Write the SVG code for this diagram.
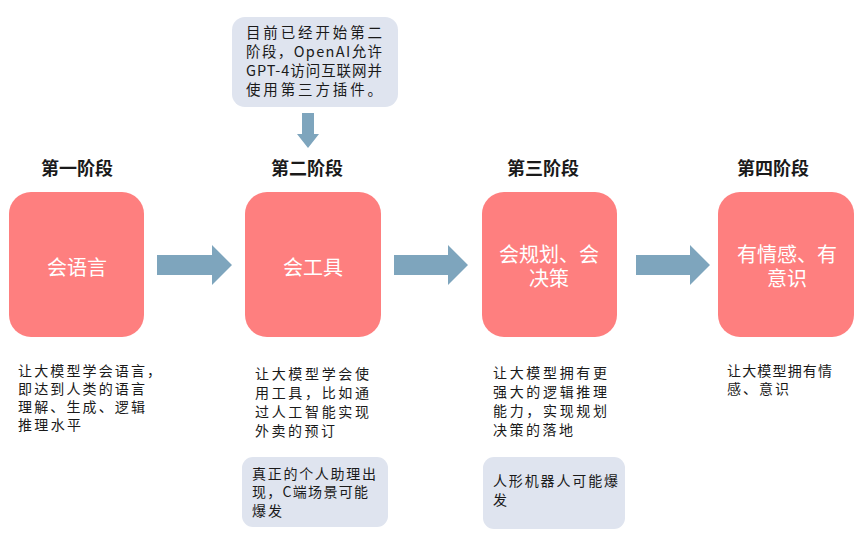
<svg xmlns="http://www.w3.org/2000/svg" width="863" height="542" viewBox="0 0 863 542">
<style>
.stage{fill:#fe7f7f}
.note{fill:#dfe4ef}
.arrow{fill:#7ea5bd}
.head{font-family:"Noto Sans CJK SC","Noto Sans",sans-serif;font-size:18px;font-weight:bold;fill:#1a1a1a;text-anchor:middle}
.btxt{font-family:"Noto Sans CJK SC","Noto Sans",sans-serif;font-size:20px;fill:#ffffff;text-anchor:middle}
.desc{font-family:"Noto Sans CJK SC","Noto Sans",sans-serif;font-size:14px;fill:#1a1a1a}
.ntxt{font-family:"Noto Sans CJK SC","Noto Sans",sans-serif;font-size:14.5px;fill:#1a1a1a}
</style>
<rect width="863" height="542" fill="#ffffff"/>
<g id="callout-top">
<rect class="note" x="232" y="17" width="166" height="90" rx="13"/>
<text class="ntxt" x="246" y="38" textLength="136" lengthAdjust="spacing">目前已经开始第二</text>
<text class="ntxt" x="246" y="57" textLength="136" lengthAdjust="spacing">阶段，OpenAI允许</text>
<text class="ntxt" x="246" y="76" textLength="136" lengthAdjust="spacing">GPT-4访问互联网并</text>
<text class="ntxt" x="246" y="95" textLength="136" lengthAdjust="spacing">使用第三方插件。</text>
</g>
<g id="stage1">
<text class="head" x="77" y="175">第一阶段</text>
<rect class="stage" x="9" y="192" width="135" height="145" rx="22"/>
<text class="btxt" x="77" y="275">会语言</text>
<text class="desc" x="18" y="376" textLength="143" lengthAdjust="spacing">让大模型学会语言，</text>
<text class="desc" x="18" y="394" textLength="127" lengthAdjust="spacing">即达到人类的语言</text>
<text class="desc" x="18" y="412" textLength="127" lengthAdjust="spacing">理解、生成、逻辑</text>
<text class="desc" x="18" y="430" textLength="63" lengthAdjust="spacing">推理水平</text>
</g>
<g id="stage2">
<text class="head" x="307" y="175">第二阶段</text>
<rect class="stage" x="245" y="192" width="136" height="145" rx="22"/>
<text class="btxt" x="313" y="275">会工具</text>
<text class="desc" x="255" y="379" textLength="114" lengthAdjust="spacing">让大模型学会使</text>
<text class="desc" x="255" y="398" textLength="114" lengthAdjust="spacing">用工具，比如通</text>
<text class="desc" x="255" y="417" textLength="114" lengthAdjust="spacing">过人工智能实现</text>
<text class="desc" x="255" y="436" textLength="80" lengthAdjust="spacing">外卖的预订</text>
</g>
<g id="note2">
<rect class="note" x="242" y="457" width="146" height="70" rx="11"/>
<text class="desc" x="252" y="479" textLength="124" lengthAdjust="spacing">真正的个人助理出</text>
<text class="desc" x="252" y="497" textLength="116" lengthAdjust="spacing">现，C端场景可能</text>
<text class="desc" x="252" y="516" textLength="30" lengthAdjust="spacing">爆发</text>
</g>
<g id="stage3">
<text class="head" x="543" y="175">第三阶段</text>
<rect class="stage" x="482" y="192" width="135" height="145" rx="22"/>
<text class="btxt" x="549" y="262">会规划、会</text>
<text class="btxt" x="549" y="286">决策</text>
<text class="desc" x="493" y="378" textLength="114" lengthAdjust="spacing">让大模型拥有更</text>
<text class="desc" x="493" y="397" textLength="114" lengthAdjust="spacing">强大的逻辑推理</text>
<text class="desc" x="493" y="416" textLength="114" lengthAdjust="spacing">能力，实现规划</text>
<text class="desc" x="493" y="435" textLength="80" lengthAdjust="spacing">决策的落地</text>
</g>
<g id="note3">
<rect class="note" x="483" y="457" width="142" height="72" rx="11"/>
<text class="desc" x="493" y="486" textLength="125" lengthAdjust="spacing">人形机器人可能爆</text>
<text class="desc" x="493" y="505" textLength="16" lengthAdjust="spacing">发</text>
</g>
<g id="stage4">
<text class="head" x="773" y="175">第四阶段</text>
<rect class="stage" x="718" y="192" width="136" height="145" rx="22"/>
<text class="btxt" x="787" y="262">有情感、有</text>
<text class="btxt" x="787" y="286">意识</text>
<text class="desc" x="727" y="376" textLength="105" lengthAdjust="spacing">让大模型拥有情</text>
<text class="desc" x="727" y="394" textLength="62" lengthAdjust="spacing">感、意识</text>
</g>
<g id="connectors">
<polygon class="arrow" points="302,113 314,113 314,134 319,134 308,148 297,134 302,134"/>
<polygon class="arrow" points="157,255 212,255 212,245 232,265 212,285 212,275 157,275"/>
<polygon class="arrow" points="394,255 448,255 448,245 468,265 448,285 448,275 394,275"/>
<polygon class="arrow" points="636,255 690,255 690,245 710,265 690,285 690,275 636,275"/>
</g>
</svg>
